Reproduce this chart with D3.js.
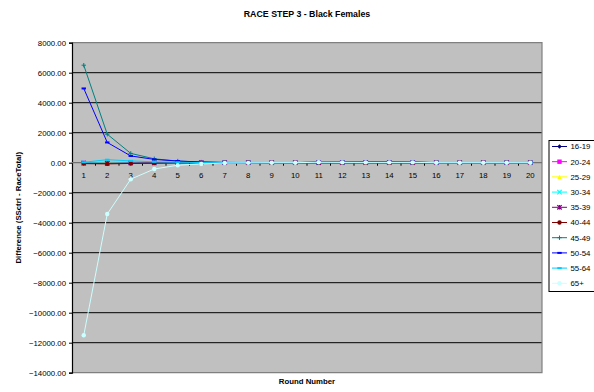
<!DOCTYPE html>
<html><head><meta charset="utf-8">
<script src="https://cdn.jsdelivr.net/npm/d3@7"></script>
<style>body{margin:0;background:#fff}svg{display:block}text{font-family:"Liberation Sans",Arial,sans-serif}</style>
</head><body><svg id="c" width="594" height="392"></svg>
<script>
const rounds = [1,2,3,4,5,6,7,8,9,10,11,12,13,14,15,16,17,18,19,20];
const yTicks = [-14000,-12000,-10000,-8000,-6000,-4000,-2000,0,2000,4000,6000,8000];
const seriesNames = ["16-19","20-24","25-29","30-34","35-39","40-44","45-49","50-54","55-64","65+"];
const s16_19 = [-20,-30,-20,-10,0,0,0,0,0,0,0,0,0,0,0,0,0,0,0,0];
const s20_24 = [-10,-20,-10,0,0,0,0,0,0,0,0,0,0,0,0,0,0,0,0,0];
const s25_29 = [0,-10,-10,0,0,0,0,0,0,0,0,0,0,0,0,0,0,0,0,0];
const s30_34 = [0,50,30,10,0,0,0,0,0,0,0,0,0,0,0,0,0,0,0,0];
const s35_39 = [-30,-40,-20,-10,0,0,0,0,0,0,0,0,0,0,0,0,0,0,0,0];
const s40_44 = [-60,-80,-50,-30,-10,0,0,0,0,0,0,0,0,0,0,0,0,0,0,0];
const s45_49 = [6500,1900,620,260,110,40,10,0,0,0,20,20,20,20,20,0,0,0,0,0];
const s50_54 = [4950,1350,450,220,110,50,20,10,0,0,60,60,70,70,60,0,0,0,0,0];
const s55_64 = [30,200,120,60,30,10,0,0,0,0,40,40,40,40,40,0,0,0,0,0];
const s65 = [-11500,-3420,-1100,-420,-170,-80,-20,-10,0,0,30,20,20,20,20,0,0,0,0,0];
const seriesValues = [s16_19,s20_24,s25_29,s30_34,s35_39,s40_44,s45_49,s50_54,s55_64,s65];
const colors = ["#000080","#FF00FF","#FFFF00","#00FFFF","#800080","#800000","#008080","#0000FF","#00CCFF","#CCFFFF"];
const markers = ["diamond","square","triangle","x","star","circle","plus","dash","dash","circle"];

const svg = d3.select("#c");
const L=72,R=542,T=42.7,B=372.7;
const x = d3.scaleBand().domain(rounds).range([L,R]);
const y = d3.scaleLinear().domain([-14000,8000]).range([B,T]);
const cx = d => x(d)+x.bandwidth()/2;

svg.append("text").attr("x",307).attr("y",17).attr("text-anchor","middle")
  .attr("font-size",8.8).attr("font-weight","bold").text("RACE STEP 3 - Black Females");

svg.append("rect").attr("x",L).attr("y",T).attr("width",R-L).attr("height",B-T).attr("fill","#C0C0C0");

// gridlines
svg.append("g").selectAll("line").data(yTicks.filter(v=>v!==0 && v!==8000 && v!==-14000)).join("line")
  .attr("x1",L).attr("x2",R).attr("y1",d=>y(d)).attr("y2",d=>y(d)).attr("stroke","#000").attr("stroke-width",1);
// border
svg.append("path").attr("d",`M${L},${T}H${R}V${B}H${L}`).attr("fill","none").attr("stroke","#808080").attr("stroke-width",1.2);

// y axis
const yAxis = d3.axisLeft(y).tickValues(yTicks).tickFormat(d3.format(".2f")).tickSize(3).tickPadding(3);
const ga = svg.append("g").attr("transform",`translate(${L},0)`).call(yAxis);
ga.select(".domain").attr("stroke","#000").attr("stroke-width",1.2);
ga.selectAll(".tick line").attr("stroke","#000");
ga.selectAll("text").attr("font-size",7.8).attr("fill","#000").attr("font-family","Liberation Sans, Arial, sans-serif");

// zero line and category axis
svg.append("line").attr("x1",L).attr("x2",R).attr("y1",y(0)).attr("y2",y(0)).attr("stroke","#707070").attr("stroke-width",1.2);
const xAxis = d3.axisBottom(x).tickSize(0).tickPadding(10);
const gx = svg.append("g").attr("transform",`translate(0,${y(0)})`).call(xAxis);
gx.select(".domain").remove();
gx.selectAll("text").attr("font-size",7.8).attr("fill","#000").attr("font-family","Liberation Sans, Arial, sans-serif");
svg.append("g").selectAll("line").data(rounds.slice(1)).join("line")
  .attr("x1",d=>x(d)).attr("x2",d=>x(d)).attr("y1",y(0)).attr("y2",y(0)+3).attr("stroke","#000").attr("stroke-width",1);

// axis titles
svg.append("text").attr("transform",`translate(21,${(T+B)/2}) rotate(-90)`).attr("text-anchor","middle")
  .attr("font-size",7.8).attr("font-weight","bold").text("Difference (SSctrl - RaceTotal)");
svg.append("text").attr("x",307).attr("y",384).attr("text-anchor","middle")
  .attr("font-size",7.8).attr("font-weight","bold").text("Round Number");

function drawMarker(g, type, px, py, col){
  const s=2.2;
  if(type==="diamond") g.append("path").attr("d",`M${px},${py-s}L${px+s},${py}L${px},${py+s}L${px-s},${py}Z`).attr("fill",col);
  else if(type==="square") g.append("rect").attr("x",px-s).attr("y",py-s).attr("width",2*s).attr("height",2*s).attr("fill",col);
  else if(type==="triangle") g.append("path").attr("d",`M${px},${py-s}L${px+s},${py+s}L${px-s},${py+s}Z`).attr("fill",col);
  else if(type==="x") g.append("path").attr("d",`M${px-s},${py-s}L${px+s},${py+s}M${px-s},${py+s}L${px+s},${py-s}`).attr("stroke",col).attr("stroke-width",1.2);
  else if(type==="star") g.append("path").attr("d",`M${px-s},${py-s}L${px+s},${py+s}M${px-s},${py+s}L${px+s},${py-s}M${px},${py-s}V${py+s}`).attr("stroke",col).attr("stroke-width",1.2);
  else if(type==="circle") g.append("circle").attr("cx",px).attr("cy",py).attr("r",s).attr("fill",col);
  else if(type==="plus") g.append("path").attr("d",`M${px-s},${py}H${px+s}M${px},${py-s}V${py+s}`).attr("stroke",col).attr("stroke-width",1);
  else if(type==="dash") g.append("path").attr("d",`M${px-s},${py}H${px+s}`).attr("stroke",col).attr("stroke-width",2);
}

const line = d3.line().x((d,i)=>cx(rounds[i])).y(d=>y(d));
seriesValues.forEach((vals,k)=>{
  const g = svg.append("g");
  g.append("path").datum(vals).attr("d",line).attr("fill","none").attr("stroke",colors[k]).attr("stroke-width",1);
  vals.forEach((v,i)=>drawMarker(g, markers[k], cx(rounds[i]), y(v), colors[k]));
});

// legend
const lg = svg.append("g");
lg.append("rect").attr("x",549).attr("y",140.5).attr("width",60).attr("height",151).attr("fill","#fff").attr("stroke","#000").attr("stroke-width",1);
seriesNames.forEach((n,k)=>{
  const ly = 146.5 + k*15.2;
  lg.append("line").attr("x1",552).attr("x2",567).attr("y1",ly).attr("y2",ly).attr("stroke",colors[k]).attr("stroke-width",1);
  drawMarker(lg, markers[k], 559.5, ly, colors[k]);
  lg.append("text").attr("x",570.5).attr("y",ly+2.8).attr("font-size",7.8).text(n);
});
</script></body></html>
